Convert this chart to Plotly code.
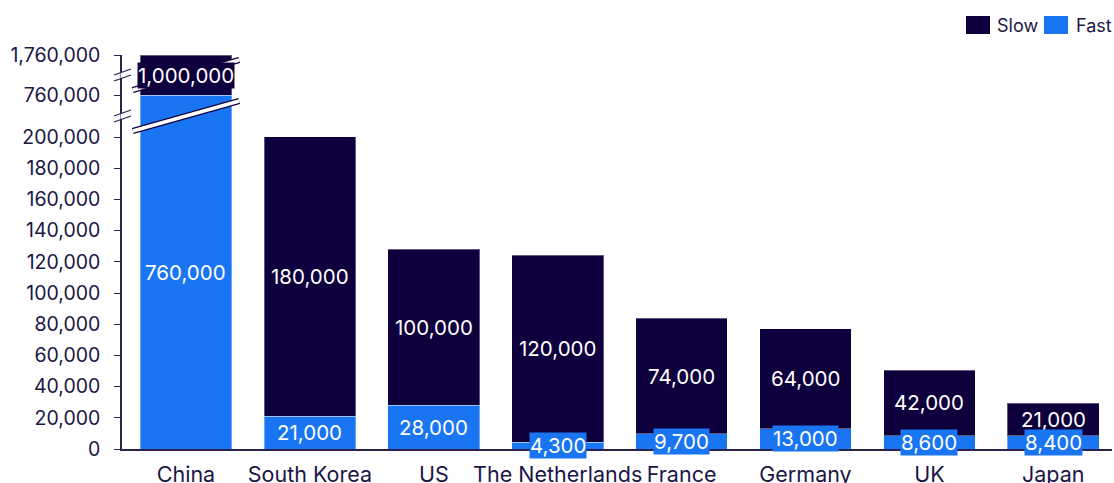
import numpy as np
import plotly.graph_objects as go

# ---- data ----
countries = ["China", "South Korea", "US", "The Netherlands", "France", "Germany", "UK", "Japan"]
fast = [760000, 21000, 28000, 4300, 9700, 13000, 8600, 8400]
slow = [1000000, 180000, 100000, 120000, 74000, 64000, 42000, 21000]
series_names = ["Slow", "Fast"]
ytick_real = [0, 20000, 40000, 60000, 80000, 100000, 120000, 140000, 160000, 180000, 200000, 760000, 1760000]

# broken-axis mapping (real value -> display coordinate)
break_real = [0, 200000, 760000, 1760000]
break_disp = [0, 200000, 226923, 252564]


def to_disp(v):
    return np.interp(v, break_real, break_disp)


SLOW_C = "#0e003c"
FAST_C = "#1a75f3"
TEXT_C = "#1b1546"
AXIS_C = "#2a2350"
FONT = "Inter"

fast_a = np.array(fast, dtype=float)
slow_a = np.array(slow, dtype=float)
fast_d = to_disp(fast_a)
top_d = to_disp(fast_a + slow_a)
slow_d = top_d - fast_d

fig = go.Figure()
fig.add_bar(x=countries, y=fast_d, name="Fast", marker=dict(color=FAST_C, line=dict(width=1, color="rgba(255,255,255,0.35)")),
            customdata=fast, hovertemplate="%{x}<br>Fast: %{customdata:,}<extra></extra>", width=0.74)
fig.add_bar(x=countries, y=slow_d, name="Slow", marker=dict(color=SLOW_C, line=dict(width=1, color="rgba(255,255,255,0.35)")),
            customdata=slow, hovertemplate="%{x}<br>Slow: %{customdata:,}<extra></extra>", width=0.74)

LBL = 20.5
annotations = []
# slow labels first, then fast labels on top
for i, c in enumerate(countries):
    annotations.append(dict(x=c, y=fast_d[i] + slow_d[i] / 2, xref="x", yref="y", text=f"{slow[i]:,}",
                            showarrow=False, font=dict(family=FONT, size=LBL, color="white"),
                            bgcolor=SLOW_C, borderpad=0))
for i, c in enumerate(countries):
    annotations.append(dict(x=c, y=fast_d[i] / 2, xref="x", yref="y", text=f"{fast[i]:,}",
                            showarrow=False, font=dict(family=FONT, size=LBL, color="white"),
                            bgcolor=FAST_C, borderpad=0))

# plot area geometry in page pixels
W, H = 1114, 483
PL, PR, PT, PB = 122, 1112, 55, 449
L, R, T, B = PL, W - PR, PT, H - PB
PW = PR - PL
PH = PB - PT


def px_x(px):
    return (px - PL) / PW


def px_y(py):
    return (PB - py) / PH


# manual legend
for name, color, sx, tx in [("Slow", SLOW_C, 966, 995), ("Fast", FAST_C, 1044, 1074)]:
    annotations.append(dict(x=px_x(tx), y=px_y(25), xref="paper", yref="paper", xanchor="left", yanchor="middle",
                            text=name, showarrow=False, font=dict(family=FONT, size=18, color=TEXT_C)))

shapes = []
for name, color, sx in [("Slow", SLOW_C, 966), ("Fast", FAST_C, 1044)]:
    shapes.append(dict(type="rect", xref="paper", yref="paper", x0=px_x(sx), x1=px_x(sx + 24),
                       y0=px_y(34), y1=px_y(16), fillcolor=color, line=dict(width=0)))

# break markers
unit_per_px = 200000 / 312.0
breaks_mid = [(break_disp[1] + break_disp[2]) / 2, (break_disp[2] + break_disp[3]) / 2]
for bm in breaks_mid:
    # gap in y axis line
    shapes.append(dict(type="line", xref="paper", yref="y", x0=px_x(PL), x1=px_x(PL),
                       y0=bm - 3 * unit_per_px, y1=bm + 3 * unit_per_px, line=dict(color="white", width=3)))
    for off in (-3, 3):
        shapes.append(dict(type="line", xref="paper", yref="y", x0=px_x(114), x1=px_x(131),
                           y0=bm + (off - 3) * unit_per_px, y1=bm + (off + 3) * unit_per_px,
                           line=dict(color=AXIS_C, width=1.3)))
    # diagonal band across the China bar
    shapes.append(dict(type="line", xref="x", yref="y", x0=-0.43, x1=0.43,
                       y0=bm - 15 * unit_per_px, y1=bm + 15 * unit_per_px, line=dict(color=SLOW_C, width=6)))
    shapes.append(dict(type="line", xref="x", yref="y", x0=-0.43, x1=0.43,
                       y0=bm - 15 * unit_per_px, y1=bm + 15 * unit_per_px, line=dict(color="white", width=3.6)))

fig.update_layout(
    width=W, height=H,
    margin=dict(l=L, r=R, t=T, b=B, pad=0, autoexpand=False),
    barmode="stack",
    plot_bgcolor="white", paper_bgcolor="white",
    showlegend=False,
    font=dict(family=FONT, color=TEXT_C),
    annotations=annotations,
    shapes=shapes,
)
fig.update_xaxes(range=[-0.5165, 7.474], showline=True, linecolor=AXIS_C, linewidth=1.5, ticks="",
                 tickfont=dict(family=FONT, size=21.5, color=TEXT_C), showgrid=False, zeroline=False,
                 ticklabelstandoff=5, automargin=False)
fig.update_yaxes(range=[0, break_disp[-1]], tickvals=to_disp(np.array(ytick_real, dtype=float)),
                 ticktext=[f"{v:,}" for v in ytick_real], showline=True, linecolor=AXIS_C, linewidth=1.5,
                 ticks="outside", ticklen=6, tickcolor=AXIS_C, tickwidth=1.3,
                 tickfont=dict(family=FONT, size=19.5, color=TEXT_C), showgrid=False, zeroline=False,
                 ticklabelstandoff=10, automargin=False)

fig.write_html("out.html", config={"displayModeBar": False},
               post_script="document.body.style.margin='0';document.body.style.overflow='hidden';")
